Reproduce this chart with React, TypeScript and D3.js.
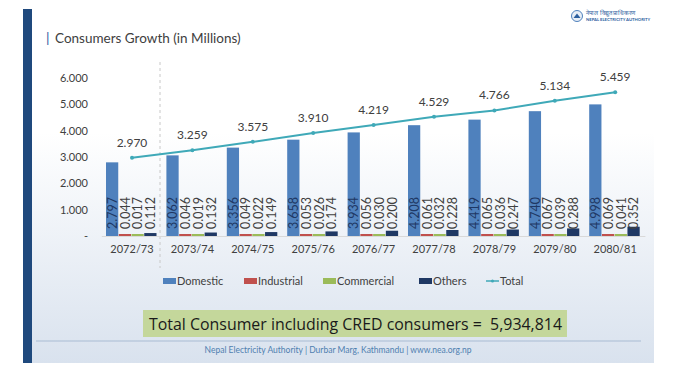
import React from 'react';
import * as d3 from 'd3';

const years = ['2072/73', '2073/74', '2074/75', '2075/76', '2076/77', '2077/78', '2078/79', '2079/80', '2080/81'];
const domestic = [2.797, 3.062, 3.356, 3.658, 3.934, 4.208, 4.419, 4.74, 4.998];
const industrial = [0.044, 0.046, 0.049, 0.053, 0.056, 0.061, 0.065, 0.067, 0.069];
const commercial = [0.017, 0.019, 0.022, 0.026, 0.03, 0.032, 0.036, 0.039, 0.041];
const others = [0.112, 0.132, 0.149, 0.174, 0.2, 0.228, 0.247, 0.288, 0.352];
const total = [2.97, 3.259, 3.575, 3.91, 4.219, 4.529, 4.766, 5.134, 5.459];
const yTicks = [0, 1, 2, 3, 4, 5, 6];

const seriesNames = ['Domestic', 'Industrial', 'Commercial', 'Others'];
const seriesColors = ['#4f81bd', '#c0504d', '#9bbb59', '#1f3864'];
const lineColor = '#3fa9b8';

const W = 686;
const H = 371;
const font = "'Lato', 'Open Sans', sans-serif";

export default function App() {
  const x = d3.scaleBand<string>().domain(years).range([101.8, 645.4]).paddingInner(0).paddingOuter(0);
  const y = d3.scaleLinear().domain([0, 6]).range([236, 78]);
  const seriesData = [domestic, industrial, commercial, others];
  const inner = d3.scaleBand<number>().domain([0, 1, 2, 3]).range([0, 51]).padding(0);
  const offset = (x.bandwidth() - 51) / 2 - 0.5;
  const cx = (yr: string) => (x(yr) as number) + x.bandwidth() / 2;

  const line = d3
    .line<number>()
    .x((_, i) => cx(years[i]))
    .y((d) => y(d));

  const fmt = d3.format('.3f');

  const legendX = [163, 244, 323, 419];

  return (
    <svg width={W} height={H} style={{ position: 'absolute', left: 0, top: 0 }} fontFamily={font}>
      <defs>
        <linearGradient id="bg" x1="0" y1="0" x2="0" y2="1">
          <stop offset="0" stopColor="#ffffff" />
          <stop offset="0.35" stopColor="#ffffff" />
          <stop offset="1" stopColor="#d9e2ee" />
        </linearGradient>
      </defs>
      <rect x={0} y={0} width={W} height={H} fill="#ffffff" />
      <rect x={23} y={9} width={631} height={354} fill="url(#bg)" />
      <rect x={23} y={9} width={9} height={354} fill="#1f497d" />

      {/* logo */}
      <circle cx={577} cy={16} r={5.5} fill="#e8eef6" stroke="#4f81bd" strokeWidth={1} />
      <path d="M573.5,18 L577,13.5 L580.5,18 Z" fill="#2c5e9e" />
      <text x={586} y={15} fontSize={6} fill="#2c5e9e">नेपाल विद्युत प्राधिकरण</text>
      <text x={586} y={21} fontSize={4.2} fill="#2c5e9e" fontWeight="bold">NEPAL ELECTRICITY AUTHORITY</text>

      {/* title */}
      <text x={46} y={43} fontSize={14} fill="#2c5e9e">|</text>
      <text x={55} y={43} fontSize={13.5} fill="#404040">Consumers Growth (in Millions)</text>

      {/* dashed separator */}
      <line x1={160} x2={160} y1={62} y2={268} stroke="#c8c8c8" strokeDasharray="3,3" />

      {/* y axis labels */}
      {yTicks.map((t) => (
        <text key={t} x={88} y={y(t) + 4} fontSize={11} fill="#404040" textAnchor="end">
          {t === 0 ? '-' : fmt(t)}
        </text>
      ))}

      {/* baseline */}
      <line x1={101.8} x2={645.4} y1={236.5} y2={236.5} stroke="#d9d9d9" />

      {/* bars */}
      {seriesData.map((vals, si) =>
        vals.map((v, i) => {
          const bx = (x(years[i]) as number) + offset + (inner(si) as number);
          const bw = inner.bandwidth() - 0.5;
          const top = Math.min(y(v), 234);
          return (
            <rect key={`${si}-${i}`} x={bx} y={top} width={bw} height={236 - top} fill={seriesColors[si]} />
          );
        })
      )}

      {/* bar labels */}
      {seriesData.map((vals, si) =>
        vals.map((v, i) => {
          const bx = (x(years[i]) as number) + offset + (inner(si) as number) + inner.bandwidth() / 2;
          return (
            <text
              key={`l${si}-${i}`}
              transform={`translate(${bx + 4.5},229) rotate(-90)`}
              fontSize={12.5}
              fill={si === 0 ? '#1f3864' : '#404040'}
            >
              {fmt(v)}
            </text>
          );
        })
      )}

      {/* total line */}
      <path d={line(total) || ''} fill="none" stroke={lineColor} strokeWidth={2} />
      {total.map((v, i) => (
        <g key={`t${i}`}>
          <circle cx={cx(years[i])} cy={y(v)} r={2} fill={lineColor} />
          <text x={cx(years[i])} y={y(v) - 11} fontSize={12} fill="#404040" textAnchor="middle">
            {fmt(v)}
          </text>
        </g>
      ))}

      {/* x labels */}
      {years.map((yr) => (
        <text key={yr} x={cx(yr)} y={253} fontSize={11} fill="#404040" textAnchor="middle">
          {yr}
        </text>
      ))}

      {/* legend */}
      {seriesNames.map((name, si) => (
        <g key={name}>
          <rect x={legendX[si]} y={278} width={13} height={6} fill={seriesColors[si]} />
          <text x={legendX[si] + 14} y={285} fontSize={11} fill="#404040">
            {name}
          </text>
        </g>
      ))}
      <line x1={486} x2={499} y1={281} y2={281} stroke={lineColor} strokeWidth={1.5} />
      <circle cx={492.5} cy={281} r={1.5} fill={lineColor} />
      <text x={500} y={285} fontSize={11} fill="#404040">
        Total
      </text>

      {/* total consumer box */}
      <rect x={143} y={310} width={424} height={27} fill="#c4d79b" />
      <text
        x={149}
        y={330}
        fontSize={17}
        fill="#1a1a1a"
        fontFamily="'Open Sans', sans-serif"
        textLength={413}
        lengthAdjust="spacingAndGlyphs"
      >
        {'Total Consumer including CRED consumers =\u00a0\u00a05,934,814'}
      </text>

      {/* footer */}
      <line x1={36} x2={641} y1={341} y2={341} stroke="#a9bcd3" />
      <text x={338} y={353} fontSize={8.5} fill="#4f7fb0" textAnchor="middle">
        Nepal Electricity Authority | Durbar Marg, Kathmandu | www.nea.org.np
      </text>
    </svg>
  );
}
